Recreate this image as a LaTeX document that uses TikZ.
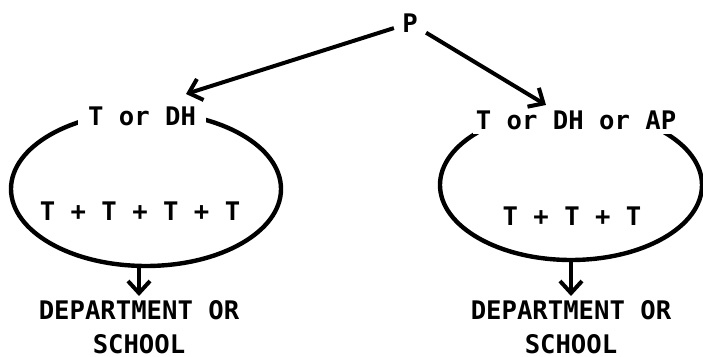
\documentclass[tikz,border=0pt]{standalone}
\usepackage{fontspec}
\setmonofont{DejaVu Sans Mono}
\usetikzlibrary{shapes.geometric,arrows.meta}
\tikzset{
  txt/.style={font=\fontsize{12.8}{17}\selectfont\ttfamily\bfseries, inner sep=2pt},
  ring/.style={ellipse, draw, line width=2.2pt, inner sep=0pt},
  top/.style={txt, fill=white},
  arr/.style={line width=2pt, -{Straight Barb[length=6pt,width=11pt]}}
}
\begin{document}
\begin{tikzpicture}[x=0.5pt,y=-0.5pt]
    \useasboundingbox (0,0) rectangle (703,357);
    % rings
    \node[ring, minimum width=135pt, minimum height=77pt] (lring) at (146,189) {};
    \node[ring, minimum width=131pt, minimum height=75pt] (rring) at (571,185) {};
    \node[top, inner xsep=5pt] (ltop) at (142,116) {T or DH};
    \node[top, inner xsep=1.5pt] (rtop) at (576,120) {T or DH or AP};
    \node[txt] (lsum) at (140,211) {T + T + T + T};
    \node[txt] (rsum) at (572,216) {T + T + T};
    \node[txt, inner sep=4pt] (p) at (410,23) {P};
    \node[txt, align=center, anchor=north] (ldept) at (139,296) {DEPARTMENT OR\\SCHOOL};
    \node[txt, align=center, anchor=north] (rdept) at (571,296) {DEPARTMENT OR\\SCHOOL};
    \coordinate (lin) at (186,94);
    \coordinate (rin) at (546,105);
    % arrows
    \draw[arr] (p) -- (lin);
    \draw[arr] (p) -- (rin);
    \draw[arr] (lring.south -| ldept.north) -- (ldept.north);
    \draw[arr] (rring.south -| rdept.north) -- (rdept.north);
\end{tikzpicture}
\end{document}
